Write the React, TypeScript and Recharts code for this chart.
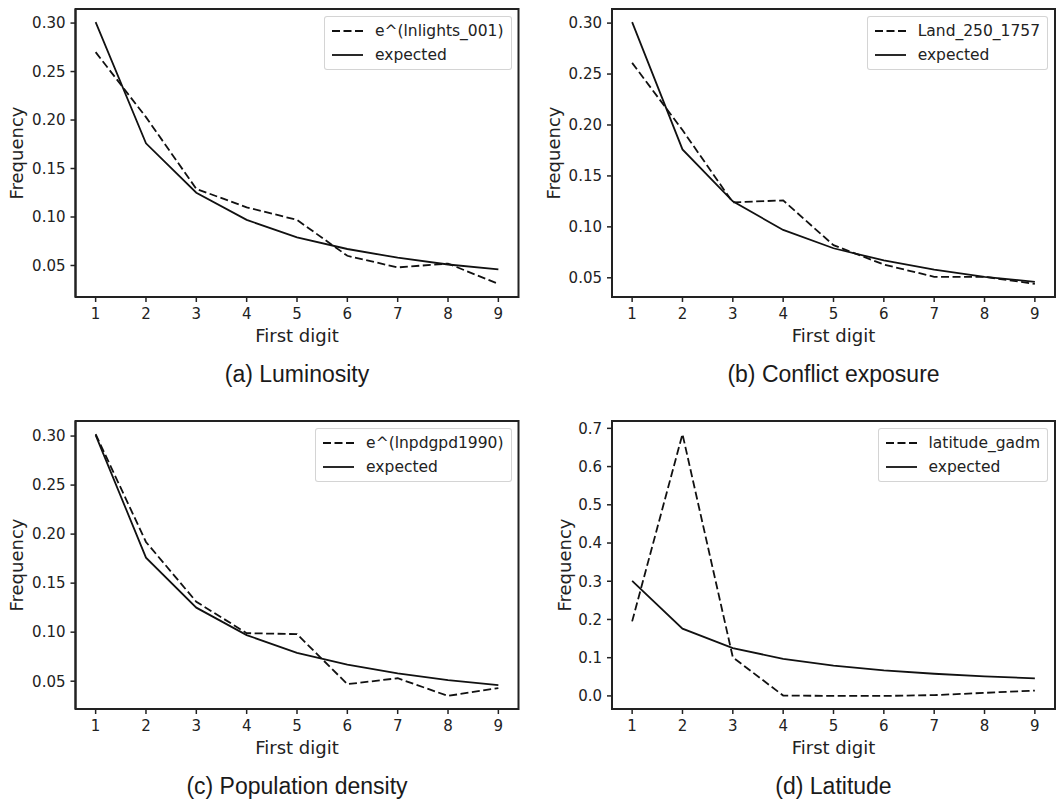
import React from 'react';
import { LineChart, Line, XAxis, YAxis, Legend, Label, ReferenceArea } from 'recharts';

// ---------- data ----------
const digits = [1, 2, 3, 4, 5, 6, 7, 8, 9];
const expected = [0.301, 0.176, 0.125, 0.097, 0.079, 0.067, 0.058, 0.051, 0.046];
const lights = [0.27, 0.203, 0.129, 0.11, 0.097, 0.06, 0.048, 0.052, 0.031];
const land = [0.261, 0.195, 0.124, 0.126, 0.082, 0.063, 0.051, 0.051, 0.044];
const popDensity = [0.302, 0.192, 0.131, 0.099, 0.098, 0.047, 0.053, 0.035, 0.043];
const latitude = [0.195, 0.685, 0.101, 0.001, 0.0, 0.0, 0.002, 0.008, 0.014];

const ticksHundredths = [0.05, 0.1, 0.15, 0.2, 0.25, 0.3];
const ticksTenths = [0.0, 0.1, 0.2, 0.3, 0.4, 0.5, 0.6, 0.7];

const seriesNames = ['e^(lnlights_001)', 'Land_250_1757', 'e^(lnpdgpd1990)', 'latitude_gadm'];
const captions = ['(a) Luminosity', '(b) Conflict exposure', '(c) Population density', '(d) Latitude'];
const xLabel = 'First digit';
const yLabel = 'Frequency';
const expectedName = 'expected';

// ---------- styling / layout ----------
const INK = '#222';
const LINE = '#111';
const FONT = '"DejaVu Sans", sans-serif';
const CAP_FONT = '"Liberation Sans", Arial, sans-serif';

const pad5 = (vals: number[]): [number, number] => {
  const lo = Math.min(...vals);
  const hi = Math.max(...vals);
  const r = hi - lo;
  return [lo - 0.05 * r, hi + 0.05 * r];
};

const xDomain = pad5(digits);

type Panel = {
  name: string;
  values: number[];
  caption: string;
  yTicks: number[];
  decimals: number;
  left: number;
  top: number;
  width: number;
  plotLeft: number;
  plotRight: number;
  labelGap: number;
};

const panels: Panel[] = [
  { name: seriesNames[0], values: lights, caption: captions[0], yTicks: ticksHundredths, decimals: 2, left: 0, top: 0, width: 532, plotLeft: 75.5, plotRight: 518.5, labelGap: 59 },
  { name: seriesNames[1], values: land, caption: captions[1], yTicks: ticksHundredths, decimals: 2, left: 532, top: 0, width: 532, plotLeft: 80, plotRight: 523, labelGap: 59 },
  { name: seriesNames[2], values: popDensity, caption: captions[2], yTicks: ticksHundredths, decimals: 2, left: 0, top: 411.5, width: 532, plotLeft: 75.5, plotRight: 518.5, labelGap: 59 },
  { name: seriesNames[3], values: latitude, caption: captions[3], yTicks: ticksTenths, decimals: 1, left: 532, top: 411.5, width: 532, plotLeft: 80, plotRight: 523, labelGap: 48 },
];

const CHART_H = 360;
const PLOT_TOP = 9;
const X_AXIS_H = 50;
const MARGIN_BOTTOM = 13;
const PLOT_H = CHART_H - PLOT_TOP - X_AXIS_H - MARGIN_BOTTOM; // 288

const DASH = '8 3.5';

function LegendBox({ name }: { name: string }) {
  const rows = [
    { label: name, dash: DASH },
    { label: expectedName, dash: undefined as string | undefined },
  ];
  return (
    <div
      style={{
        background: 'rgba(255,255,255,0.85)',
        border: '1px solid rgba(204,204,204,0.85)',
        borderRadius: 3,
        padding: '2px 7px 2px 7px',
        fontFamily: FONT,
        fontSize: 15.5,
        color: INK,
        whiteSpace: 'nowrap',
      }}
    >
      {rows.map((r) => (
        <div key={r.label} style={{ display: 'flex', alignItems: 'center', height: 24 }}>
          <svg width={31} height={10} style={{ marginRight: 12, display: 'block' }}>
            <line x1={0} y1={5} x2={31} y2={5} stroke={LINE} strokeWidth={1.8} strokeDasharray={r.dash} />
          </svg>
          <span>{r.label}</span>
        </div>
      ))}
    </div>
  );
}

function PanelChart({ p }: { p: Panel }) {
  const data = digits.map((d, i) => ({ digit: d, obs: p.values[i], exp: expected[i] }));
  const yDomain = pad5([...p.values, ...expected]);
  const marginRight = p.width - p.plotRight;
  const axisStroke = { stroke: INK, strokeWidth: 2 };
  const tickStroke = { stroke: INK, strokeWidth: 1.5 };
  const tickStyle = { fill: INK, fontSize: 15, fontFamily: FONT };

  return (
    <div style={{ position: 'absolute', left: p.left, top: p.top, width: p.width, height: CHART_H }}>
      <LineChart
        width={p.width}
        height={CHART_H}
        data={data}
        margin={{ top: PLOT_TOP, right: marginRight, bottom: MARGIN_BOTTOM, left: 0 }}
      >
        <XAxis
          dataKey="digit"
          type="number"
          domain={xDomain}
          ticks={digits}
          interval={0}
          allowDataOverflow
          height={X_AXIS_H}
          tickSize={5}
          tickMargin={6}
          axisLine={axisStroke}
          tickLine={tickStroke}
          tick={tickStyle}
        >
          <Label
            content={(props: any) => {
              const vb = props.viewBox || { x: p.plotLeft, y: PLOT_TOP + PLOT_H, width: p.plotRight - p.plotLeft, height: X_AXIS_H };
              return (
                <text
                  x={vb.x + vb.width / 2}
                  y={vb.y + 38}
                  textAnchor="middle"
                  dominantBaseline="central"
                  fill={INK}
                  fontSize={18}
                  fontFamily={FONT}
                >
                  {xLabel}
                </text>
              );
            }}
          />
        </XAxis>
        <YAxis
          type="number"
          domain={yDomain}
          ticks={p.yTicks}
          interval={0}
          allowDataOverflow
          width={p.plotLeft}
          tickSize={5}
          tickMargin={5}
          tickFormatter={(v: number) => v.toFixed(p.decimals)}
          axisLine={axisStroke}
          tickLine={tickStroke}
          tick={tickStyle}
        >
          <Label
            content={(props: any) => {
              const vb = props.viewBox || { x: 0, y: PLOT_TOP, width: p.plotLeft, height: PLOT_H };
              const cx = vb.x + vb.width - p.labelGap;
              const cy = vb.y + vb.height / 2;
              return (
                <text
                  x={cx}
                  y={cy}
                  transform={`rotate(-90 ${cx} ${cy})`}
                  textAnchor="middle"
                  dominantBaseline="central"
                  fill={INK}
                  fontSize={18}
                  fontFamily={FONT}
                >
                  {yLabel}
                </text>
              );
            }}
          />
        </YAxis>
        <ReferenceArea
          x1={xDomain[0]}
          x2={xDomain[1]}
          y1={yDomain[0]}
          y2={yDomain[1]}
          fill="none"
          fillOpacity={0}
          stroke={INK}
          strokeWidth={2}
          ifOverflow="visible"
        />
        <Line
          dataKey="obs"
          name={p.name}
          type="linear"
          stroke={LINE}
          strokeWidth={1.8}
          strokeDasharray={DASH}
          dot={false}
          activeDot={false}
          isAnimationActive={false}
        />
        <Line
          dataKey="exp"
          name={expectedName}
          type="linear"
          stroke={LINE}
          strokeWidth={1.8}
          dot={false}
          activeDot={false}
          isAnimationActive={false}
        />
        <Legend
          layout="horizontal"
          align="center"
          verticalAlign="middle"
          content={() => <LegendBox name={p.name} />}
          wrapperStyle={{
            position: 'absolute',
            top: PLOT_TOP + 7,
            right: marginRight + 7,
            left: 'auto',
            bottom: 'auto',
            width: 'auto',
            height: 'auto',
          }}
        />
      </LineChart>
      <div
        style={{
          position: 'absolute',
          left: p.plotLeft,
          width: p.plotRight - p.plotLeft,
          top: 362,
          textAlign: 'center',
          fontFamily: CAP_FONT,
          fontSize: 23,
          lineHeight: '24px',
          color: '#1a1a1a',
          whiteSpace: 'nowrap',
        }}
      >
        {p.caption}
      </div>
    </div>
  );
}

export default function App() {
  return (
    <div style={{ position: 'absolute', left: 0, top: 0, width: 1064, height: 802, background: '#fff', overflow: 'hidden' }}>
      {panels.map((p) => (
        <PanelChart key={p.caption} p={p} />
      ))}
    </div>
  );
}
